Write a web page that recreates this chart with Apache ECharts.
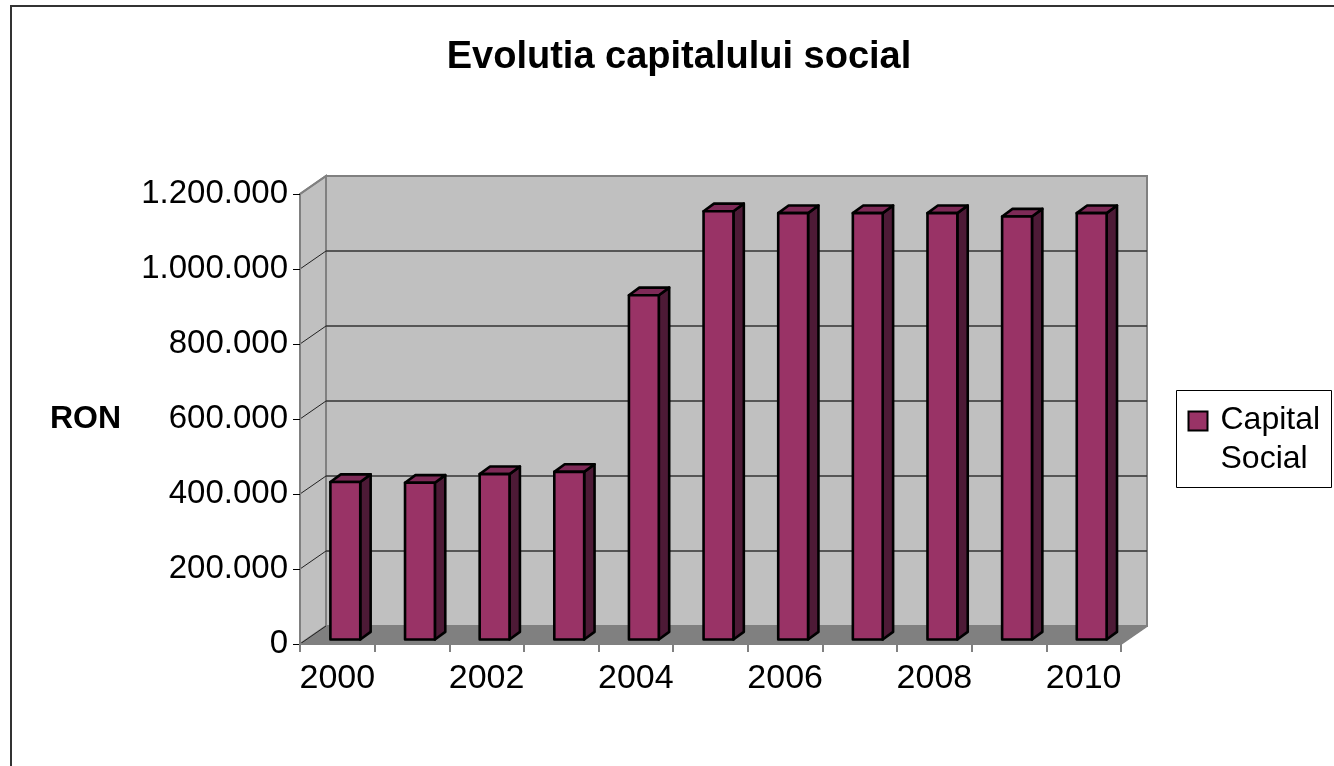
<!DOCTYPE html>
<html>
<head>
<meta charset="utf-8">
<script src="https://cdn.jsdelivr.net/npm/echarts@6/dist/echarts.min.js"></script>
<style>
html,body{margin:0;padding:0;background:#fff;}
#chart{width:1334px;height:766px;}
</style>
</head>
<body>
<div id="chart"></div>
<script>
// ---- data ----
var years = ['2000','2001','2002','2003','2004','2005','2006','2007','2008','2009','2010'];
var capitalSocial = [420000, 418000, 441000, 447000, 918000, 1142000, 1137000, 1137000, 1137000, 1128000, 1137000];
var yTicks = [0, 200000, 400000, 600000, 800000, 1000000, 1200000];
var seriesName = 'Capital Social';
var legendLines = ['Capital', 'Social'];

// ---- style constants ----
var FONT = '"Liberation Sans", Arial, sans-serif';
var DEPTH = [26, -18];          // full depth vector
var FRONT = [8, -4.5];          // bar front face offset
var SIDE = [10.4, -7.6];        // bar depth
var BAR_RATIO = 0.40;

function fmt(v){ return String(v).replace(/\B(?=(\d{3})+(?!\d))/g, '.'); }

var chart = echarts.init(document.getElementById('chart'));

function wallsRender(params, api){
  var n = years.length;
  var bw = api.size([1,0])[0];
  var p0 = api.coord([0, 0]);
  var pN = api.coord([n-1, 0]);
  var xl = p0[0] - bw/2, xr = pN[0] + bw/2;
  var yb = p0[1];
  var yt = api.coord([0, yTicks[yTicks.length-1]])[1];
  var dx = DEPTH[0], dy = DEPTH[1];
  var children = [];
  children.push({type:'polygon', shape:{points:[[xl,yb],[xr,yb],[xr+dx,yb+dy],[xl+dx,yb+dy]]},
    style:{fill:'#808080', stroke:'#808080', lineWidth:1}});
  children.push({type:'polygon', shape:{points:[[xl,yb],[xl,yt],[xl+dx,yt+dy],[xl+dx,yb+dy]]},
    style:{fill:'#C0C0C0', stroke:'#808080', lineWidth:2}});
  children.push({type:'rect', shape:{x:xl+dx, y:yt+dy, width:xr-xl, height:yb-yt},
    style:{fill:'#C0C0C0', stroke:'#808080', lineWidth:2}});
  for (var i=1;i<yTicks.length-1;i++){
    var y = api.coord([0, yTicks[i]])[1];
    children.push({type:'line', shape:{x1:xl+dx, y1:y+dy, x2:xr+dx, y2:y+dy},
      style:{stroke:'#333333', lineWidth:1.5}});
  }
  for (var j=0;j<yTicks.length;j++){
    var y2 = api.coord([0, yTicks[j]])[1];
    children.push({type:'line', shape:{x1:xl, y1:y2, x2:xl+dx, y2:y2+dy},
      style:{stroke: j===yTicks.length-1 ? '#808080' : '#222222', lineWidth: j===yTicks.length-1 ? 2 : 1}});
  }
  children.push({type:'line', shape:{x1:xr, y1:yb, x2:xr+dx, y2:yb+dy}, style:{stroke:'#808080', lineWidth:2}});
  children.push({type:'line', shape:{x1:xl+dx, y1:yb+dy, x2:xr+dx, y2:yb+dy}, style:{stroke:'#808080', lineWidth:1}});
  return {type:'group', children:children};
}

function barRender(params, api){
  var base = api.coord([api.value(0), 0]);
  var top = api.coord([api.value(0), api.value(1)]);
  var bw = api.size([1,0])[0];
  var w = bw * BAR_RATIO;
  var cx = base[0] + FRONT[0];
  var x0 = cx - w/2, x1 = cx + w/2;
  var yb = base[1] + FRONT[1], yt = top[1] + FRONT[1];
  var sx = SIDE[0], sy = SIDE[1];
  var st = {stroke:'#000', lineWidth:2.6, lineJoin:'round'};
  return {type:'group', children:[
    {type:'polygon', shape:{points:[[x1,yb],[x1+sx,yb+sy],[x1+sx,yt+sy],[x1,yt]]},
      style:Object.assign({fill:'#4D1A36'}, st)},
    {type:'polygon', shape:{points:[[x0,yt],[x0+sx,yt+sy],[x1+sx,yt+sy],[x1,yt]]},
      style:Object.assign({fill:'#7E2A57'}, st)},
    {type:'rect', shape:{x:x0, y:yt, width:w, height:yb-yt},
      style:Object.assign({fill:'#993366'}, st)}
  ]};
}

var option = {
  backgroundColor:'#ffffff',
  animation:false,
  title:{
    text:'Evolutia capitalului social',
    left:679, top:39, textAlign:'center', padding:0,
    textStyle:{fontFamily:FONT, fontSize:38, fontWeight:'bold', color:'#000'}
  },
  grid:{left:300, top:194, right:213, bottom:122, containLabel:false},
  xAxis:{
    type:'category', data:years, boundaryGap:true, z:10,
    axisLine:{lineStyle:{color:'#808080', width:2}},
    axisTick:{show:true, interval:0, length:8, lineStyle:{color:'#808080', width:2}},
    axisLabel:{interval:1, fontFamily:FONT, fontSize:34, color:'#000', margin:18},
    splitLine:{show:false}
  },
  yAxis:{
    type:'value', min:0, max:1200000, interval:200000, z:10,
    name:'RON', nameLocation:'middle', nameRotate:0, nameGap:179,
    nameTextStyle:{fontFamily:FONT, fontSize:32, fontWeight:'bold', color:'#000', align:'right', verticalAlign:'middle'},
    axisLine:{show:true, lineStyle:{color:'#808080', width:2}},
    axisTick:{show:true, length:7, lineStyle:{color:'#000', width:1}},
    axisLabel:{formatter:fmt, fontFamily:FONT, fontSize:33, color:'#000', margin:12},
    splitLine:{show:false}
  },
  graphic:[
    {type:'rect', shape:{x:11, y:6, width:1400, height:900}, style:{fill:'none', stroke:'#333', lineWidth:2}, z:0, silent:true},
    {type:'group', left:1176, top:390, z:20, children:[
      {type:'rect', shape:{x:0, y:0, width:155, height:97}, style:{fill:'#fff', stroke:'#000', lineWidth:1}},
      {type:'rect', shape:{x:12, y:21, width:19, height:19}, style:{fill:'#993366', stroke:'#000', lineWidth:2}},
      {type:'text', x:44, y:30, style:{text:legendLines[0], font:'32px ' + FONT, fill:'#000', verticalAlign:'middle'}},
      {type:'text', x:44, y:69, style:{text:legendLines[1], font:'32px ' + FONT, fill:'#000', verticalAlign:'middle'}}
    ]}
  ],
  series:[
    {type:'custom', name:'walls', silent:true, z:1, clip:false, renderItem:wallsRender, data:[[0,0]]},
    {type:'custom', name:seriesName, z:3, clip:false, renderItem:barRender,
      data: years.map(function(y,i){ return [i, capitalSocial[i]]; })}
  ]
};
chart.setOption(option);
</script>
</body>
</html>
